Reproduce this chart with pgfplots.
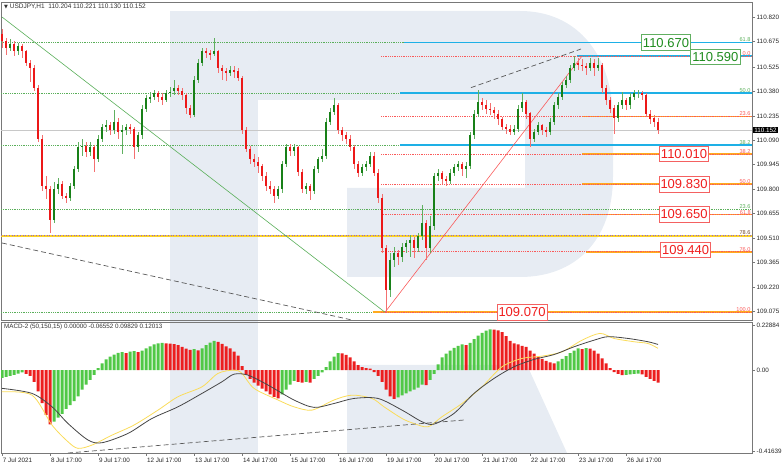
\documentclass[border=0pt]{standalone}
\usepackage{pgfplots}
\pgfplotsset{compat=1.18}
\usepackage{pgfplotstable}
\usepackage{fontspec}
\setmainfont{Liberation Sans}
\newfontfamily\dejavu{DejaVu Sans}

\definecolor{wm}{RGB}{231,236,243}
\definecolor{frame}{RGB}{120,120,120}
\definecolor{upbody}{RGB}{24,128,24}
\definecolor{upwick}{RGB}{96,176,96}
\definecolor{dnbody}{RGB}{236,24,24}
\definecolor{dnwick}{RGB}{244,112,112}
\definecolor{histup}{RGB}{80,200,70}
\definecolor{histdn}{RGB}{236,30,30}
\definecolor{sigyel}{RGB}{250,220,90}
\definecolor{siggry}{RGB}{70,70,70}
\definecolor{fibgrn}{RGB}{90,175,90}
\definecolor{fibred}{RGB}{250,90,90}
\definecolor{cyanlvl}{RGB}{30,176,230}
\definecolor{orangelvl}{RGB}{255,170,30}
\definecolor{yellvl}{RGB}{250,210,40}
\definecolor{purp}{RGB}{150,100,200}
\definecolor{boxgrn}{RGB}{30,140,30}
\definecolor{boxred}{RGB}{240,30,30}
\definecolor{bidgray}{RGB}{200,200,200}
\definecolor{darklbl}{RGB}{110,70,40}

\newcommand\tickfont{\fontsize{6.3bp}{7bp}\selectfont}
\newcommand\lvlfont{\fontsize{5.6bp}{6.2bp}\selectfont}
\newcommand\boxfont{\fontsize{13bp}{15bp}\selectfont}

\tikzset{
  lvl/.style={anchor=south east, font=\lvlfont, inner sep=0.4bp},
  pbox/.style={draw=#1!70, fill=white, text=#1, font=\boxfont, inner xsep=1.5bp,
    inner ysep=0bp, minimum height=15.5bp, line width=0.8bp},
}

% USDJPY H1, aggregated to 2-hour candles (i = hours since 7 Jul 17:00)
\pgfplotstableread{
i o h l c
0 110.72 110.75 110.64 110.68
2 110.68 110.70 110.60 110.64
4 110.64 110.69 110.62 110.66
6 110.66 110.68 110.59 110.62
8 110.62 110.67 110.60 110.65
10 110.65 110.66 110.58 110.62
12 110.62 110.63 110.53 110.55
14 110.55 110.57 110.44 110.52
16 110.52 110.54 110.38 110.40
18 110.40 110.42 110.08 110.10
20 110.10 110.12 109.79 109.82
22 109.82 109.88 109.74 109.80
24 109.80 109.82 109.54 109.62
26 109.62 109.84 109.60 109.80
28 109.80 109.87 109.77 109.83
30 109.83 109.85 109.74 109.76
32 109.76 109.78 109.72 109.75
34 109.75 109.84 109.73 109.82
36 109.82 109.94 109.80 109.92
38 109.92 110.08 109.90 110.05
40 110.05 110.10 110.00 110.06
42 110.06 110.08 109.99 110.02
44 110.02 110.08 110.00 110.05
46 110.05 110.06 109.90 109.98
48 109.98 110.12 109.96 110.10
50 110.10 110.19 110.08 110.17
52 110.17 110.21 110.14 110.18
54 110.18 110.20 110.12 110.15
56 110.15 110.27 110.13 110.20
58 110.20 110.22 110.10 110.14
60 110.14 110.18 110.01 110.15
62 110.15 110.19 110.12 110.17
64 110.17 110.19 110.13 110.16
66 110.16 110.17 109.98 110.05
68 110.05 110.14 110.02 110.12
70 110.12 110.30 110.10 110.28
72 110.28 110.36 110.26 110.34
74 110.34 110.38 110.31 110.35
76 110.35 110.39 110.33 110.37
78 110.37 110.38 110.32 110.35
80 110.35 110.37 110.30 110.33
82 110.33 110.39 110.32 110.37
84 110.37 110.41 110.35 110.38
86 110.38 110.45 110.36 110.40
88 110.40 110.42 110.36 110.38
90 110.38 110.40 110.33 110.36
92 110.36 110.37 110.25 110.28
94 110.28 110.30 110.22 110.24
96 110.24 110.47 110.23 110.45
98 110.45 110.57 110.43 110.55
100 110.55 110.64 110.53 110.62
102 110.62 110.64 110.58 110.61
104 110.61 110.63 110.57 110.60
106 110.60 110.70 110.59 110.62
108 110.62 110.63 110.49 110.52
110 110.52 110.54 110.45 110.50
112 110.50 110.52 110.44 110.49
114 110.49 110.53 110.47 110.51
116 110.51 110.53 110.46 110.50
118 110.50 110.52 110.44 110.46
120 110.46 110.47 110.13 110.15
122 110.15 110.17 110.02 110.04
124 110.04 110.06 109.95 109.98
126 109.98 110.01 109.93 109.96
128 109.96 109.99 109.90 109.94
130 109.94 109.95 109.85 109.88
132 109.88 109.90 109.79 109.82
134 109.82 109.85 109.77 109.80
136 109.80 109.82 109.72 109.76
138 109.76 109.82 109.74 109.80
140 109.80 109.97 109.78 109.95
142 109.95 110.07 109.93 110.05
144 110.05 110.07 110.00 110.03
146 110.03 110.07 110.00 110.05
148 110.05 110.06 109.88 109.90
150 109.90 109.92 109.78 109.80
152 109.80 109.84 109.77 109.82
154 109.82 109.83 109.74 109.79
156 109.79 109.94 109.77 109.92
158 109.92 109.99 109.90 109.98
160 109.98 110.04 109.96 110.00
162 110.00 110.22 109.98 110.20
164 110.20 110.28 110.18 110.26
166 110.26 110.34 110.24 110.30
168 110.30 110.31 110.13 110.15
170 110.15 110.17 110.09 110.12
172 110.12 110.14 110.07 110.10
174 110.10 110.12 110.03 110.05
176 110.05 110.06 109.92 109.95
178 109.95 109.97 109.87 109.90
180 109.90 109.95 109.88 109.93
182 109.93 109.97 109.91 109.95
184 109.95 110.02 109.93 110.00
186 110.00 110.02 109.88 109.90
188 109.90 109.92 109.72 109.75
190 109.75 109.77 109.42 109.45
192 109.45 109.47 109.07 109.20
194 109.20 109.42 109.16 109.38
196 109.38 109.46 109.34 109.42
198 109.42 109.44 109.35 109.40
200 109.40 109.48 109.37 109.46
202 109.46 109.50 109.42 109.48
204 109.48 109.53 109.40 109.50
206 109.50 109.52 109.39 109.45
208 109.45 109.54 109.43 109.52
210 109.52 109.71 109.50 109.60
212 109.60 109.62 109.38 109.45
214 109.45 109.64 109.42 109.58
216 109.58 109.90 109.56 109.88
218 109.88 109.92 109.85 109.90
220 109.90 109.91 109.83 109.86
222 109.86 109.88 109.82 109.85
224 109.85 109.92 109.83 109.90
226 109.90 109.95 109.88 109.93
228 109.93 109.97 109.91 109.95
230 109.95 109.96 109.88 109.92
232 109.92 109.96 109.87 109.94
234 109.94 110.14 109.92 110.12
236 110.12 110.27 110.10 110.25
238 110.25 110.39 110.23 110.32
240 110.32 110.34 110.27 110.30
242 110.30 110.33 110.25 110.28
244 110.28 110.31 110.24 110.27
246 110.27 110.29 110.22 110.25
248 110.25 110.27 110.18 110.22
250 110.22 110.23 110.15 110.17
252 110.17 110.19 110.13 110.16
254 110.16 110.18 110.12 110.14
256 110.14 110.18 110.12 110.16
258 110.16 110.30 110.14 110.28
260 110.28 110.37 110.26 110.32
262 110.32 110.33 110.22 110.25
264 110.25 110.26 110.05 110.10
266 110.10 110.16 110.08 110.14
268 110.14 110.20 110.12 110.18
270 110.18 110.19 110.12 110.15
272 110.15 110.17 110.11 110.14
274 110.14 110.22 110.12 110.20
276 110.20 110.32 110.18 110.30
278 110.30 110.37 110.28 110.35
280 110.35 110.44 110.33 110.42
282 110.42 110.47 110.40 110.45
284 110.45 110.54 110.43 110.52
286 110.52 110.59 110.50 110.55
288 110.55 110.58 110.51 110.54
290 110.54 110.57 110.50 110.53
292 110.53 110.55 110.48 110.52
294 110.52 110.58 110.50 110.55
296 110.55 110.57 110.47 110.52
298 110.52 110.58 110.50 110.54
300 110.54 110.55 110.37 110.40
302 110.40 110.42 110.30 110.33
304 110.33 110.35 110.25 110.28
306 110.28 110.30 110.13 110.22
308 110.22 110.32 110.20 110.30
310 110.30 110.38 110.28 110.33
312 110.33 110.34 110.27 110.30
314 110.30 110.37 110.28 110.35
316 110.35 110.39 110.33 110.37
318 110.37 110.39 110.34 110.37
320 110.37 110.38 110.33 110.36
322 110.36 110.37 110.23 110.25
324 110.25 110.27 110.19 110.22
326 110.22 110.24 110.17 110.20
328 110.20 110.22 110.13 110.15
}\candles

% MACD histogram, g = 1 rising (green), 0 falling (red)
\pgfplotstableread{
i v g
0 -0.040 1
2 -0.035 1
4 -0.030 1
6 -0.025 1
8 -0.018 1
10 -0.012 1
12 -0.020 0
14 -0.030 0
16 -0.060 0
18 -0.110 0
20 -0.170 0
22 -0.230 0
24 -0.280 0
26 -0.265 1
28 -0.245 1
30 -0.225 1
32 -0.200 1
34 -0.180 1
36 -0.160 1
38 -0.135 1
40 -0.100 1
42 -0.075 1
44 -0.050 1
46 -0.025 1
48 0.010 1
50 0.035 1
52 0.055 1
54 0.070 1
56 0.080 1
58 0.089 1
60 0.092 1
62 0.088 0
64 0.095 1
66 0.098 1
68 0.092 0
70 0.100 1
72 0.112 1
74 0.122 1
76 0.132 1
78 0.138 1
80 0.140 1
82 0.138 0
84 0.136 0
86 0.134 0
88 0.128 0
90 0.120 0
92 0.110 0
94 0.104 0
96 0.108 1
98 0.102 0
100 0.112 1
102 0.128 1
104 0.142 1
106 0.150 1
108 0.145 0
110 0.135 0
112 0.122 0
114 0.112 0
116 0.095 0
118 0.075 0
120 0.020 0
122 -0.025 0
124 -0.045 0
126 -0.065 0
128 -0.080 0
130 -0.095 0
132 -0.110 0
134 -0.125 0
136 -0.138 0
138 -0.145 0
140 -0.125 1
142 -0.100 1
144 -0.075 1
146 -0.055 1
148 -0.060 0
150 -0.065 0
152 -0.060 1
154 -0.065 0
156 -0.045 1
158 -0.030 1
160 -0.012 1
162 0.015 1
164 0.045 1
166 0.070 1
168 0.088 1
170 0.086 0
172 0.078 0
174 0.065 0
176 0.045 0
178 0.026 0
180 0.015 0
182 0.010 0
184 0.008 0
186 -0.010 0
188 -0.030 0
190 -0.060 0
192 -0.100 0
194 -0.135 0
196 -0.148 0
198 -0.140 1
200 -0.130 1
202 -0.120 1
204 -0.110 1
206 -0.100 1
208 -0.090 1
210 -0.075 1
212 -0.078 0
214 -0.050 1
216 -0.020 1
218 0.030 1
220 0.065 1
222 0.085 1
224 0.100 1
226 0.115 1
228 0.125 1
230 0.132 1
232 0.128 0
234 0.140 1
236 0.160 1
238 0.178 1
240 0.192 1
242 0.203 1
244 0.210 1
246 0.208 0
248 0.205 0
250 0.195 0
252 0.175 0
254 0.150 0
256 0.137 0
258 0.132 0
260 0.125 0
262 0.120 0
264 0.100 0
266 0.085 0
268 0.070 0
270 0.058 0
272 0.048 0
274 0.040 0
276 0.034 0
278 0.045 1
280 0.058 1
282 0.072 1
284 0.088 1
286 0.100 1
288 0.112 1
290 0.108 0
292 0.113 1
294 0.110 0
296 0.100 0
298 0.085 0
300 0.060 0
302 0.035 0
304 0.010 0
306 -0.010 0
308 -0.020 0
310 -0.026 0
312 -0.024 1
314 -0.022 1
316 -0.020 1
318 -0.018 1
320 -0.022 0
322 -0.035 0
324 -0.045 0
326 -0.055 0
328 -0.065 0
}\macd

\begin{document}
\begin{tikzpicture}
\useasboundingbox (0,0) rectangle (782bp,466bp);
% faint logo in the background
\fill[wm] (170bp,13bp) rectangle (258bp,455bp);
\fill[wm] (258bp,455bp) -- (520bp,455bp) .. controls (578bp,455bp) and (613bp,410bp) .. (613bp,346bp)
  -- (613bp,290bp) .. controls (613bp,225bp) and (575bp,189bp) .. (520bp,189bp)
  -- (347bp,189bp) -- (347bp,278bp) -- (525bp,278bp) -- (525bp,366bp) -- (258bp,366bp) -- cycle;
\fill[wm] (347bp,101bp) -- (527bp,101bp) -- (567bp,13bp) -- (347bp,13bp) -- cycle;

% ---------------- price pane ----------------
\begin{axis}[
  at={(1bp,146bp)}, anchor=south west, scale only axis,
  width=751bp, height=318bp,
  xmin=-0.5, xmax=375, ymin=109.024, ymax=110.911,
  xtick=\empty,
  ytick={109.075,109.220,109.365,109.510,109.655,109.800,109.945,110.090,110.235,110.380,110.525,110.675,110.820},
  yticklabels={109.075,109.220,109.365,109.510,109.655,109.800,109.945,110.090,110.235,110.380,110.525,110.675,110.820},
  ytick pos=right, yticklabel pos=right,
  tick align=outside, major tick length=3bp, tick style={frame, line width=0.6bp},
  yticklabel style={font=\tickfont, inner xsep=1.5bp, text=black!85},
  axis line style={frame, line width=0.8bp},
  clip mode=individual,
]
% bid line
\addplot[bidgray, line width=0.7bp, forget plot] coordinates {(-0.5,110.152) (375,110.152)};
% first Fibonacci grid (green, dotted, full width)
\pgfplotsinvokeforeach{110.670,110.370,110.063,109.683,109.070}{
  \addplot[fibgrn, densely dotted, line width=0.8bp, forget plot] coordinates {(-0.5,#1) (375,#1)};
}
% support line at 109.525
\addplot[yellvl, line width=2bp, forget plot] coordinates {(-0.5,109.525) (375,109.525)};
\addplot[purp, dotted, line width=0.7bp, forget plot] coordinates {(-0.5,109.525) (375,109.525)};
% cyan levels
\addplot[cyanlvl, line width=1.6bp, forget plot] coordinates {(201,110.670) (375,110.670)};
\addplot[cyanlvl, line width=1.6bp, forget plot] coordinates {(287.5,110.590) (375,110.590)};
\addplot[cyanlvl, line width=1.6bp, forget plot] coordinates {(199,110.370) (375,110.370)};
\addplot[cyanlvl, line width=1.6bp, forget plot] coordinates {(199,110.063) (375,110.063)};
% orange target levels
\addplot[orangelvl, line width=1.6bp, forget plot] coordinates {(290.5,110.231) (375,110.231)};
\addplot[orangelvl, line width=1.6bp, forget plot] coordinates {(290,110.009) (375,110.009)};
\addplot[orangelvl, line width=1.6bp, forget plot] coordinates {(290,109.830) (375,109.830)};
\addplot[orangelvl, line width=1.6bp, forget plot] coordinates {(290,109.651) (375,109.651)};
\addplot[orangelvl, line width=1.6bp, forget plot] coordinates {(292,109.429) (375,109.429)};
\addplot[orangelvl, line width=1.6bp, forget plot] coordinates {(185.5,109.070) (375,109.070)};
% second Fibonacci grid (red, dotted)
\pgfplotsinvokeforeach{110.590,110.231,110.009,109.830,109.651,109.429,109.070}{
  \addplot[fibred, densely dotted, line width=0.8bp, forget plot] coordinates {(189.5,#1) (375,#1)};
}
% trend lines
\addplot[fibgrn, line width=0.6bp, forget plot] coordinates {(0,110.822) (191.5,109.070)};
\addplot[fibred, line width=0.6bp, forget plot] coordinates {(191.5,109.070) (290,110.590)};
\addplot[black!65, dash pattern=on 5bp off 3bp, line width=0.7bp, forget plot] coordinates {(0,109.481) (175,109.024)};
\addplot[black!65, dash pattern=on 5bp off 3bp, line width=0.7bp, forget plot] coordinates {(234.5,110.403) (289.5,110.632)};

% candles: wicks then bodies
\addplot[draw=none, mark=none, forget plot,
  restrict expr to domain={\thisrow{c}-\thisrow{o}}{0:5},
  error bars/.cd, y dir=both, y explicit, error mark=none,
  error bar style={draw=upwick, line width=0.7bp}]
  table[x=i, y expr={(\thisrow{h}+\thisrow{l})/2}, y error expr={(\thisrow{h}-\thisrow{l})/2}] {\candles};
\addplot[draw=none, mark=none, forget plot,
  restrict expr to domain={\thisrow{c}-\thisrow{o}}{-5:-0.0001},
  error bars/.cd, y dir=both, y explicit, error mark=none,
  error bar style={draw=dnwick, line width=0.7bp}]
  table[x=i, y expr={(\thisrow{h}+\thisrow{l})/2}, y error expr={(\thisrow{h}-\thisrow{l})/2}] {\candles};
\addplot[draw=none, mark=none, forget plot,
  restrict expr to domain={\thisrow{c}-\thisrow{o}}{0:5},
  error bars/.cd, y dir=both, y explicit, error mark=none,
  error bar style={draw=upbody, line width=2.6bp}]
  table[x=i, y expr={(\thisrow{o}+\thisrow{c})/2}, y error expr={(\thisrow{c}-\thisrow{o})/2}] {\candles};
\addplot[draw=none, mark=none, forget plot,
  restrict expr to domain={\thisrow{c}-\thisrow{o}}{-5:-0.0001},
  error bars/.cd, y dir=both, y explicit, error mark=none,
  error bar style={draw=dnbody, line width=2.6bp}]
  table[x=i, y expr={(\thisrow{o}+\thisrow{c})/2}, y error expr={(\thisrow{o}-\thisrow{c})/2}] {\candles};

% level captions at the right edge
\node[lvl, text=fibgrn] at (axis cs:374.5,110.670) {61.8};
\node[lvl, text=fibgrn] at (axis cs:374.5,110.370) {50.0};
\node[lvl, text=fibgrn] at (axis cs:374.5,110.063) {38.2};
\node[lvl, text=fibgrn] at (axis cs:374.5,109.683) {23.6};
\node[lvl, text=fibred] at (axis cs:374.5,110.590) {0.0};
\node[lvl, text=fibred] at (axis cs:374.5,110.231) {23.6};
\node[lvl, text=fibred] at (axis cs:374.5,110.009) {38.2};
\node[lvl, text=fibred] at (axis cs:374.5,109.830) {50.0};
\node[lvl, text=fibred, inner sep=0bp] at (axis cs:374.5,109.651) {61.8};
\node[lvl, text=fibred] at (axis cs:374.5,109.429) {76.0};
\node[lvl, text=fibred] at (axis cs:374.5,109.070) {100.0};
\node[lvl, text=darklbl] at (axis cs:374.5,109.525) {78.6};

% price boxes
\node[pbox=boxgrn] at (axis cs:332,110.670) {110.670};
\node[pbox=boxgrn] at (axis cs:356.7,110.585) {110.590};
\node[pbox=boxred] at (axis cs:341,110.009) {110.010};
\node[pbox=boxred] at (axis cs:341,109.830) {109.830};
\node[pbox=boxred] at (axis cs:341,109.651) {109.650};
\node[pbox=boxred] at (axis cs:341.8,109.439) {109.440};
\node[pbox=boxred] at (axis cs:260,109.070) {109.070};

% current price tag and header
\node[anchor=west, fill=black, text=white, font=\tickfont, inner xsep=1.2bp, inner ysep=1bp] at (axis cs:375.5,110.152) {110.152};
\node[anchor=north west, font=\fontsize{6.5bp}{7.5bp}\selectfont, text=black!80, inner sep=0bp, xshift=3bp, yshift=-2bp]
  at (rel axis cs:0,1) {{\dejavu\fontsize{5bp}{6bp}\selectfont ▼} USDJPY,H1\ \ 110.204 110.221 110.130 110.152};
\end{axis}

% ---------------- MACD pane ----------------
\begin{axis}[
  at={(1bp,13bp)}, anchor=south west, scale only axis,
  width=751bp, height=131bp,
  xmin=-0.5, xmax=375, ymin=-0.4269, ymax=0.2477,
  xtick={0,24,...,312},
  xticklabels={7 Jul 2021,8 Jul 17:00,9 Jul 17:00,12 Jul 17:00,13 Jul 17:00,14 Jul 17:00,15 Jul 17:00,16 Jul 17:00,19 Jul 17:00,20 Jul 17:00,21 Jul 17:00,22 Jul 17:00,23 Jul 17:00,26 Jul 17:00},
  xtick pos=bottom,
  xticklabel style={font=\tickfont, anchor=north west, inner xsep=0.8bp, inner ysep=1.5bp, text=black!85},
  ytick={-0.41639,0,0.22884},
  yticklabels={-0.41639,0.00,0.22884},
  ytick pos=right, yticklabel pos=right,
  tick align=outside, major tick length=3bp, tick style={frame, line width=0.6bp},
  yticklabel style={font=\tickfont, inner xsep=1.5bp, text=black!85},
  axis line style={frame, line width=0.8bp},
  clip mode=individual,
]
\addplot[ybar, bar width=3bp, bar shift=0pt, fill=histup, draw=none, forget plot,
  restrict expr to domain={\thisrow{g}}{0.5:1.5}] table[x=i, y=v] {\macd};
\addplot[ybar, bar width=3bp, bar shift=0pt, fill=histdn, draw=none, forget plot,
  restrict expr to domain={\thisrow{g}}{-0.5:0.5}] table[x=i, y=v] {\macd};
% signal lines
\addplot[sigyel, line width=0.8bp, smooth, forget plot] coordinates {
 (0,-0.112) (15,-0.129) (25,-0.283) (33,-0.369) (38,-0.403) (45,-0.386) (55,-0.335)
 (66,-0.283) (78,-0.206) (88,-0.137) (100,-0.086) (108,-0.017) (116,0.000) (120,-0.017)
 (126,-0.094) (138,-0.154) (146,-0.189) (155,-0.206) (166,-0.154) (175,-0.129) (185,-0.146)
 (191,-0.189) (200,-0.249) (206,-0.275) (213,-0.292) (220,-0.240) (230,-0.172) (240,-0.086)
 (250,0.017) (260,0.060) (270,0.072) (280,0.094) (290,0.154) (299,0.189) (306,0.163)
 (316,0.146) (323,0.137) (328,0.112)};
\addplot[siggry, line width=0.8bp, smooth, forget plot] coordinates {
 (0,-0.094) (15,-0.120) (25,-0.189) (33,-0.275) (43,-0.360) (50,-0.374) (63,-0.326)
 (75,-0.249) (88,-0.189) (100,-0.120) (110,-0.060) (116,-0.021) (123,-0.026) (133,-0.077)
 (146,-0.154) (156,-0.192) (166,-0.172) (176,-0.146) (188,-0.146) (200,-0.206) (210,-0.266)
 (216,-0.278) (226,-0.223) (236,-0.120) (246,-0.043) (256,0.017) (266,0.055) (276,0.080)
 (286,0.120) (296,0.154) (303,0.172) (313,0.163) (323,0.146) (328,0.132)};
\addplot[black!65, dash pattern=on 5bp off 3bp, line width=0.7bp, forget plot] coordinates {(33,-0.4269) (231,-0.257)};
\node[anchor=north west, font=\tickfont, text=black!80, inner sep=0bp, xshift=3bp, yshift=-2bp]
  at (rel axis cs:0,1) {MACD-2 (50,150,15) 0.00000 -0.06552 0.09829 0.12013};
\end{axis}
\end{tikzpicture}
\end{document}
